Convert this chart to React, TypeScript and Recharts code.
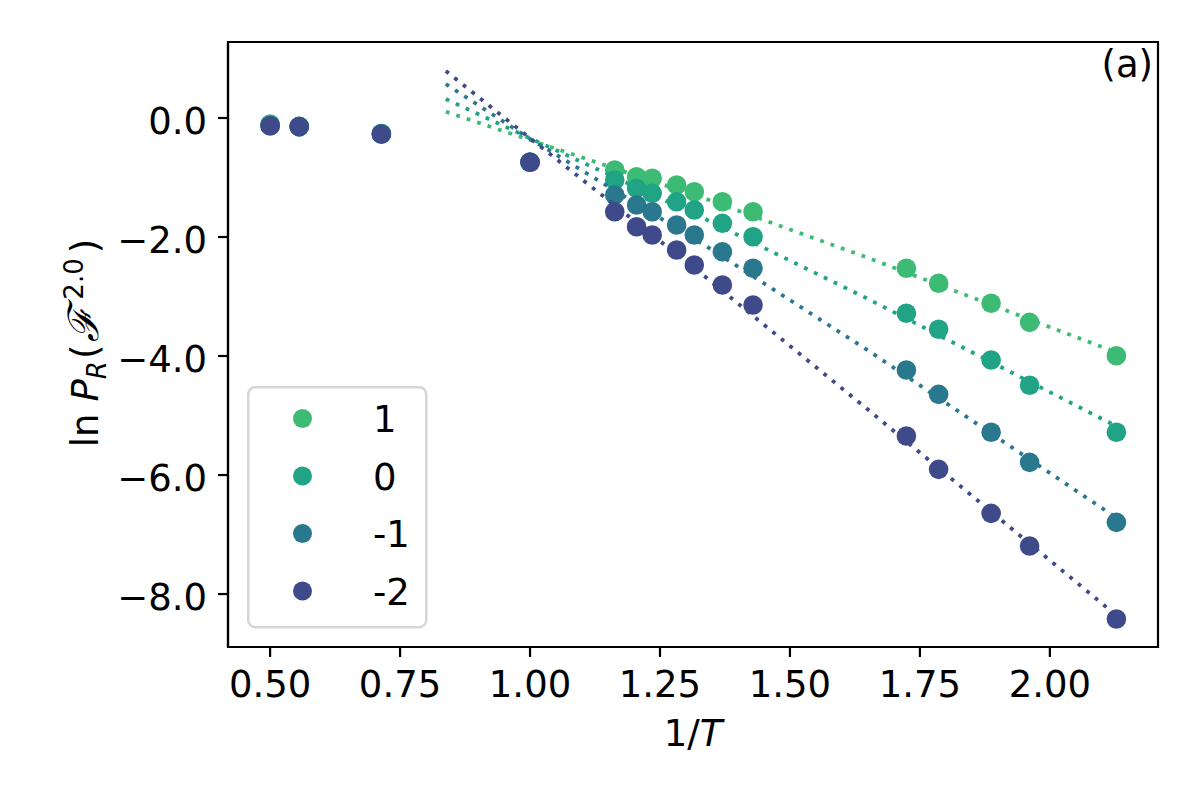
import React from 'react';
import { ComposedChart, Scatter, XAxis, YAxis, ReferenceArea, Legend } from 'recharts';

// 1/T values of the measured points
const invT = [0.5, 0.556, 0.714, 1.0, 1.163, 1.205, 1.235, 1.282, 1.316, 1.37, 1.429, 1.724, 1.786, 1.887, 1.961, 2.128];
// ln P_R values per series
const lnP_p1 = [-0.1, -0.14, -0.26, -0.74, -0.874, -0.987, -1.013, -1.126, -1.239, -1.407, -1.575, -2.526, -2.778, -3.114, -3.434, -3.995];
const lnP_0 = [-0.12, -0.145, -0.265, -0.745, -1.042, -1.182, -1.266, -1.407, -1.546, -1.77, -1.995, -3.282, -3.551, -4.067, -4.492, -5.282];
const lnP_m1 = [-0.13, -0.145, -0.27, -0.745, -1.294, -1.462, -1.575, -1.798, -1.966, -2.247, -2.526, -4.235, -4.644, -5.282, -5.787, -6.795];
const lnP_m2 = [-0.13, -0.145, -0.27, -0.745, -1.575, -1.827, -1.966, -2.218, -2.471, -2.807, -3.143, -5.345, -5.905, -6.644, -7.193, -8.42];

// dotted fit curves
const fitX = [0.838, 1.0, 1.34, 1.65, 2.128];
const fit_p1 = [0.106, -0.37, -1.365, -2.35, -3.94];
const fit_0 = [0.319, -0.34, -1.71, -3.04, -5.18];
const fit_m1 = [0.571, -0.35, -2.16, -3.905, -6.72];
const fit_m2 = [0.79, -0.34, -2.69, -4.9, -8.36];

const seriesLabels = ['1', '0', '-1', '-2'];
const seriesColors = ['#3dbb74', '#21a386', '#2a788e', '#3e4a89'];
const seriesValues = [lnP_p1, lnP_0, lnP_m1, lnP_m2];
const seriesFits = [fit_p1, fit_0, fit_m1, fit_m2];

const xTicks = [0.5, 0.75, 1.0, 1.25, 1.5, 1.75, 2.0];
const yTicks = [-8, -6, -4, -2, 0];
const xDomain = [0.419, 2.208];
const yDomain = [-8.89, 1.277];

const FONT = 'DejaVu Sans, Liberation Sans, sans-serif';
const FS = 37;

const series = seriesLabels.map((label, i) => ({
  label,
  color: seriesColors[i],
  points: invT.map((x, j) => ({ x, y: seriesValues[i][j] })),
  fit: fitX.map((x, j) => ({ x, y: seriesFits[i][j] })),
}));

const fmtY = (v: number) => (v < 0 ? '\u2212' + Math.abs(v).toFixed(1) : v.toFixed(1));

const XTick = (props: any) => {
  const { x, y, payload } = props;
  return (
    <text x={x} y={y + 38} textAnchor="middle" fontFamily={FONT} fontSize={FS} fill="#000">
      {Number(payload.value).toFixed(2)}
    </text>
  );
};

const YTick = (props: any) => {
  const { x, y, payload } = props;
  return (
    <text x={x - 9} y={y + 16} textAnchor="end" fontFamily={FONT} fontSize={FS} fill="#000">
      {fmtY(Number(payload.value))}
    </text>
  );
};

const XLabel = (props: any) => {
  const vb = props.viewBox || { x: 228, y: 647, width: 930, height: 153 };
  const cx = vb.x + vb.width / 2;
  const by = vb.y + 99;
  return (
    <text x={cx} y={by} textAnchor="middle" fontFamily={FONT} fontSize={FS} fill="#000">
      1/<tspan fontStyle="italic">T</tspan>
    </text>
  );
};

const YLabel = (props: any) => {
  const vb = props.viewBox || { x: 0, y: 42, width: 228, height: 605 };
  const cx = vb.x + 98;
  const cy = vb.y + vb.height / 2 - 1.5;
  return (
    <text
      x={cx}
      y={cy}
      transform={`rotate(-90, ${cx}, ${cy})`}
      textAnchor="middle"
      fontFamily={FONT}
      fontSize={FS}
      fill="#000"
    >
      ln<tspan dx={12} fontStyle="italic">P</tspan>
      <tspan fontStyle="italic" fontSize={26} dy={8}>R</tspan>
      <tspan dx={2} dy={-8}>(</tspan>
      <tspan dx={3} fontSize={42} fontFamily="DejaVu Serif, serif" fontStyle="italic">{'\u2131'}</tspan>
      <tspan dx={7} fontSize={26} dy={-15}>2.0</tspan>
      <tspan dx={5} dy={15}>)</tspan>
    </text>
  );
};

const PanelTag = (props: any) => {
  const vb = props.viewBox;
  if (!vb) return null;
  return (
    <text x={vb.x + vb.width - 5} y={vb.y + 35} textAnchor="end" fontFamily={FONT} fontSize={FS} fill="#000">
      (a)
    </text>
  );
};

const LegendBox = () => (
  <svg width={181} height={243} style={{ display: 'block', overflow: 'visible' }}>
    <rect x={1.25} y={1.25} width={178} height={240} rx={7} ry={7} fill="rgba(255,255,255,0.8)" stroke="#d6d6d6" strokeWidth={2.5} />
    {series.map((s, i) => (
      <g key={s.label}>
        <circle cx={55.5} cy={32.5 + i * 57.5} r={9.5} fill={s.color} />
        <text x={126} y={32.5 + i * 57.5 + 13.5} fontFamily={FONT} fontSize={FS} fill="#000">
          {s.label}
        </text>
      </g>
    ))}
  </svg>
);

const Dot = (color: string) => (props: any) => {
  const { cx, cy } = props;
  if (cx == null || cy == null) return <g />;
  return <circle cx={cx} cy={cy} r={9.8} fill={color} />;
};

const NoDot = () => <g />;

export default function App() {
  return (
    <div style={{ position: 'absolute', left: 0, top: 0, width: 1200, height: 800, background: '#fff' }}>
      <ComposedChart width={1200} height={800} margin={{ top: 42, right: 42, bottom: 0, left: 0 }}>
        <XAxis
          type="number"
          dataKey="x"
          domain={xDomain}
          ticks={xTicks}
          allowDataOverflow
          height={153}
          tickSize={10}
          axisLine={{ stroke: '#000', strokeWidth: 2.2 }}
          tickLine={{ stroke: '#000', strokeWidth: 2.2 }}
          tick={<XTick />}
          label={{ content: <XLabel /> }}
        />
        <YAxis
          type="number"
          dataKey="y"
          domain={yDomain}
          ticks={yTicks}
          allowDataOverflow
          width={228}
          tickSize={10}
          axisLine={{ stroke: '#000', strokeWidth: 2.2 }}
          tickLine={{ stroke: '#000', strokeWidth: 2.2 }}
          tick={<YTick />}
          label={{ content: <YLabel /> }}
        />
        {series.map((s) => [
          <Scatter
            key={'pts' + s.label}
            name={s.label}
            data={s.points}
            fill={s.color}
            shape={Dot(s.color)}
            isAnimationActive={false}
          />,
          <Scatter
            key={'fit' + s.label}
            name={'fit' + s.label}
            data={s.fit}
            fill={s.color}
            shape={NoDot}
            line={{ stroke: s.color, strokeWidth: 3.8, strokeDasharray: '3.8 7.2' }}
            lineType="joint"
            isAnimationActive={false}
            legendType="none"
          />,
        ])}
        <ReferenceArea
          x1={xDomain[0]}
          x2={xDomain[1]}
          y1={yDomain[0]}
          y2={yDomain[1]}
          fill="none"
          fillOpacity={0}
          stroke="#000"
          strokeWidth={2.2}
          ifOverflow="visible"
          label={{ content: <PanelTag /> }}
        />
        <Legend
          layout="vertical"
          align="center"
          verticalAlign="middle"
          content={() => <LegendBox />}
          wrapperStyle={{ position: 'absolute', left: 247, top: 386, width: 181, height: 243, margin: 0, padding: 0 }}
        />
      </ComposedChart>
    </div>
  );
}
